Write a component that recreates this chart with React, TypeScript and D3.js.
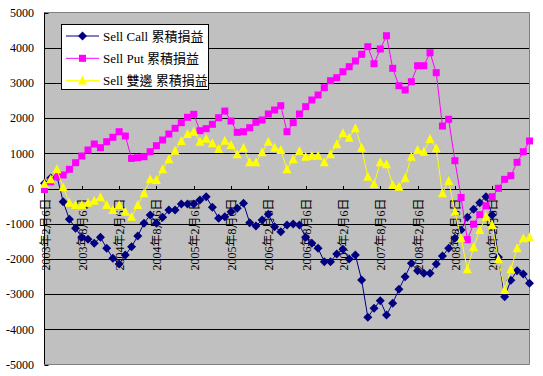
import React from "react";
import * as d3 from "d3";

const W = 543;
const H = 376;

// monthly categories 2003-02-06 .. 2009-08-06 (79 points)
const startYear = 2003;
const startMonth = 2;
const categoryCount = 79;
const categories: string[] = d3.range(categoryCount).map((i) => {
  const m = startMonth - 1 + i;
  return `${startYear + Math.floor(m / 12)}年${(m % 12) + 1}月6日`;
});
const tickEvery = 6;
const tickLabels: string[] = categories.filter((_, i) => i % tickEvery === 0 && i < 78);

const yTicks = [5000, 4000, 3000, 2000, 1000, 0, -1000, -2000, -3000, -4000, -5000];

const sellCall = [
  150, 300, 350, -375, -875, -1130, -1386, -1443, -1557, -1386,
  -1700, -1983, -2145, -1890, -1653, -1350, -990, -753, -990, -818,
  -611, -611, -440, -440, -440, -327, -233, -534, -847, -801,
  -659, -562, -420, -972, -1065, -895, -733, -1085, -1227, -1037,
  -1008, -1037, -1386, -1557, -1700, -2079, -2079, -1861, -1728, -2003,
  -1890, -2600, -3660, -3405, -3187, -3594, -3261, -2864, -2505, -2126,
  -2335, -2410, -2410, -2145, -1918, -1700, -1415, -1180, -818, -591,
  -403, -233, -753, -1950, -3074, -2610, -2335, -2430, -2694,
];

const sellPut = [
  -30, 190, 335, 383, 545, 733, 923, 1094, 1264, 1160,
  1330, 1455, 1614, 1491, 855, 875, 903, 1045, 1216, 1378,
  1548, 1710, 1870, 2022, 2108, 1642, 1700, 1824, 2011, 2200,
  1917, 1596, 1614, 1727, 1880, 1946, 2116, 2230, 2352, 1614,
  1870, 2116, 2324, 2514, 2656, 2864, 3062, 3148, 3318, 3460,
  3622, 3812, 4028, 3545, 3963, 4340, 3414, 2920, 2798, 3034,
  3488, 3488, 3857, 3290, 1775, 1966, 790, -255, -1453, -1013,
  -743, -493, -233, 6, 261, 364, 744, 1045, 1350,
];

const sellBoth = [
  128, 261, 545, 34, -403, -469, -469, -403, -347, -250,
  -469, -611, -469, -659, -801, -469, -136, 261, 241, 545,
  830, 1074, 1350, 1548, 1614, 1330, 1416, 1284, 1122, 1358,
  1236, 972, 1160, 744, 744, 1028, 1330, 1160, 1094, 545,
  830, 1065, 903, 932, 932, 744, 972, 1255, 1568, 1443,
  1710, 1160, 335, 130, 744, 687, 99, 51, 290, 903,
  1094, 1045, 1406, 1142, -136, 215, -659, -1415, -2295, -1670,
  -1180, -801, -1037, -2011, -2884, -2295, -1700, -1415, -1386,
];

const seriesNames = ["Sell Call 累積損益", "Sell Put 累積損益", "Sell 雙邊 累積損益"];
const seriesColors = ["#000080", "#FF00FF", "#FFFF00"];
const seriesData = [sellCall, sellPut, sellBoth];
const markerTypes = ["diamond", "square", "triangle"];

const FONT = "'Liberation Serif', 'Noto Sans CJK TC', serif";

const plot = { left: 44.5, top: 12.5, right: 529.5, bottom: 364.5 };

function Marker({ type, x, y, color }: { type: string; x: number; y: number; color: string }) {
  if (type === "diamond") {
    const r = 4.5;
    return <path d={`M${x},${y - r}L${x + r},${y}L${x},${y + r}L${x - r},${y}Z`} fill={color} />;
  }
  if (type === "square") {
    const s = 7;
    return <rect x={x - s / 2} y={y - s / 2} width={s} height={s} fill={color} />;
  }
  const w = 9;
  const h = 8;
  return <path d={`M${x},${y - h / 2 - 1}L${x + w / 2},${y + h / 2}L${x - w / 2},${y + h / 2}Z`} fill={color} />;
}

export default function App() {
  const x = d3
    .scalePoint<string>()
    .domain(categories)
    .range([plot.left, plot.right]);
  const y = d3.scaleLinear().domain([-5000, 5000]).range([plot.bottom, plot.top]);
  const line = d3
    .line<number>()
    .x((_, i) => x(categories[i]) as number)
    .y((d) => y(d));

  const y0 = y(0);

  return (
    <svg width={W} height={H} style={{ position: "absolute", left: 0, top: 0 }}>
      <rect x={0} y={0} width={W} height={H} fill="#fff" />
      <rect
        x={plot.left}
        y={plot.top}
        width={plot.right - plot.left}
        height={plot.bottom - plot.top}
        fill="#C0C0C0"
      />
      {/* gridlines */}
      {yTicks
        .filter((t) => t !== 5000 && t !== -5000)
        .map((t) => (
          <line
            key={t}
            x1={plot.left}
            x2={plot.right}
            y1={Math.round(y(t)) + 0.5}
            y2={Math.round(y(t)) + 0.5}
            stroke="#000"
            strokeWidth={1}
          />
        ))}
      {/* border */}
      <path
        d={`M${plot.left},${plot.top}H${plot.right}V${plot.bottom}H${plot.left}`}
        fill="none"
        stroke="#808080"
        strokeWidth={1}
      />
      {/* y axis */}
      <line x1={plot.left} x2={plot.left} y1={plot.top} y2={plot.bottom} stroke="#000" />
      {yTicks.map((t) => (
        <g key={t}>
          <line x1={plot.left} x2={plot.left + 4} y1={Math.round(y(t)) + 0.5} y2={Math.round(y(t)) + 0.5} stroke="#000" />
          <text
            x={34}
            y={y(t)}
            dy="0.35em"
            textAnchor="end"
            fontFamily={FONT}
            fontSize={12}
            fill="#000"
          >
            {t}
          </text>
        </g>
      ))}
      {/* x axis ticks at zero line */}
      {tickLabels.map((lab) => {
        const tx = Math.round(x(lab) as number) + 0.5;
        return (
          <g key={lab}>
            <line x1={tx} x2={tx} y1={Math.round(y0) - 3} y2={Math.round(y0)} stroke="#000" />
            <text
              transform={`translate(${tx},${y0 + 10}) rotate(-90)`}
              textAnchor="end"
              dy="0.35em"
              fontFamily={FONT}
              fontSize={12}
              fill="#000"
            >
              {lab}
            </text>
          </g>
        );
      })}
      {/* series */}
      {seriesData.map((data, si) => (
        <g key={si}>
          <path d={line(data) || ""} fill="none" stroke={seriesColors[si]} strokeWidth={1} />
          {data.map((d, i) => (
            <Marker key={i} type={markerTypes[si]} x={x(categories[i]) as number} y={y(d)} color={seriesColors[si]} />
          ))}
        </g>
      ))}
      {/* legend */}
      <rect x={61.5} y={24.5} width={147} height={65} fill="#fff" stroke="#000" strokeWidth={1} />
      {seriesNames.map((name, i) => {
        const ly = 36 + i * 22.3;
        return (
          <g key={name}>
            <line x1={66} x2={99} y1={ly} y2={ly} stroke={seriesColors[i]} strokeWidth={1} />
            <Marker type={markerTypes[i]} x={82.5} y={ly} color={seriesColors[i]} />
            <text x={103} y={ly} dy="0.35em" fontFamily={FONT} fontSize={13} fill="#000">
              {name}
            </text>
          </g>
        );
      })}
    </svg>
  );
}
